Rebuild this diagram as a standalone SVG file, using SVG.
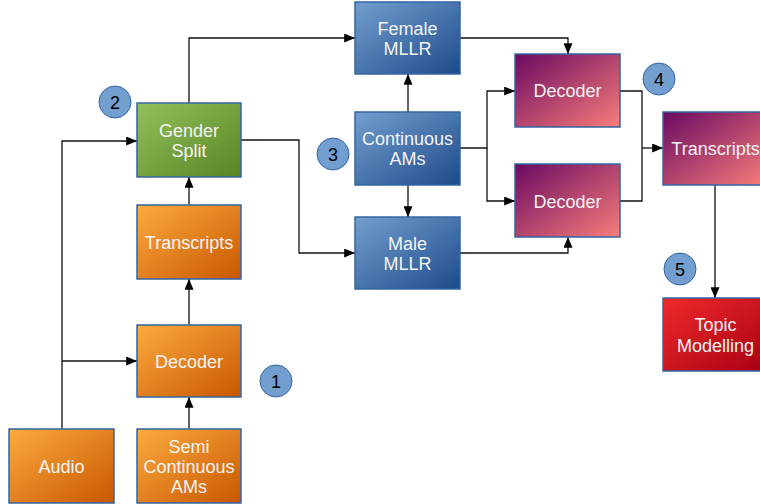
<svg xmlns="http://www.w3.org/2000/svg" width="760" height="504" viewBox="0 0 760 504">
<defs>
<linearGradient id="gOrange" x1="0" y1="0" x2="1" y2="1"><stop offset="0" stop-color="#fcab3f"/><stop offset="1" stop-color="#c95700"/></linearGradient>
<linearGradient id="gGreen" x1="0" y1="0" x2="1" y2="1"><stop offset="0" stop-color="#93c05c"/><stop offset="1" stop-color="#5a8423"/></linearGradient>
<linearGradient id="gBlue" x1="0" y1="0" x2="1" y2="1"><stop offset="0" stop-color="#729fcf"/><stop offset="1" stop-color="#1f4a8b"/></linearGradient>
<linearGradient id="gPurple" x1="0" y1="0" x2="1" y2="1"><stop offset="0" stop-color="#6a0a62"/><stop offset="1" stop-color="#f97d7a"/></linearGradient>
<linearGradient id="gRed" x1="0" y1="0" x2="1" y2="1"><stop offset="0" stop-color="#ee2a2a"/><stop offset="1" stop-color="#a80014"/></linearGradient>
<marker id="arr" viewBox="0 0 12 10" refX="12" refY="5" markerWidth="12" markerHeight="9" markerUnits="userSpaceOnUse" orient="auto"><path d="M0,0 L12,5 L0,10 Z" fill="#000"/></marker>
</defs>
<style>
.box{stroke:#3465a4;stroke-width:1.5}
.lbl{font-family:"Liberation Sans",Arial,sans-serif;font-size:18px;fill:#f4f4f4;text-anchor:middle}
.num{font-family:"Liberation Sans",Arial,sans-serif;font-size:18px;fill:#000;text-anchor:middle}
.badge{fill:#729fcf;stroke:#3465a4;stroke-width:1}
.conn path{fill:none;stroke:#111;stroke-width:1.3}
.conn .a{marker-end:url(#arr)}
</style>
<g class="conn" id="connectors">
<path d="M62,429 V141 H137" class="a"/>
<path d="M62,361 H137" class="a"/>
<path d="M189,429 V397" class="a"/>
<path d="M189,325 V279" class="a"/>
<path d="M189,205 V177" class="a"/>
<path d="M189,103 V38 H355" class="a"/>
<path d="M241,140 H299 V253 H355" class="a"/>
<path d="M408,112 V74" class="a"/>
<path d="M408,185 V217" class="a"/>
<path d="M460,148 H487 V91 H515" class="a"/>
<path d="M487,148 V201 H515" class="a"/>
<path d="M460,38 H568 V54" class="a"/>
<path d="M460,253 H568 V237" class="a"/>
<path d="M620,91 H642 V201 H620"/>
<path d="M642,148 H663" class="a"/>
<path d="M715,185 V298" class="a"/>
</g>
<g id="audio"><rect class="box" x="9" y="429" width="105" height="74" fill="url(#gOrange)"/><text class="lbl" x="61.5" y="472.5">Audio</text></g>
<g id="semi"><rect class="box" x="137" y="429" width="104" height="74" fill="url(#gOrange)"/><text class="lbl" x="189" y="452.5">Semi</text><text class="lbl" x="189" y="472.5">Continuous</text><text class="lbl" x="189" y="492.5">AMs</text></g>
<g id="decoder1"><rect class="box" x="137" y="325" width="104" height="72" fill="url(#gOrange)"/><text class="lbl" x="189" y="367.5">Decoder</text></g>
<g id="transcripts1"><rect class="box" x="137" y="205" width="104" height="74" fill="url(#gOrange)"/><text class="lbl" x="189" y="248.5">Transcripts</text></g>
<g id="gender"><rect class="box" x="137" y="103" width="104" height="74" fill="url(#gGreen)"/><text class="lbl" x="189" y="136.5">Gender</text><text class="lbl" x="189" y="156.5">Split</text></g>
<g id="female"><rect class="box" x="355" y="2" width="105" height="72" fill="url(#gBlue)"/><text class="lbl" x="407.5" y="34.5">Female</text><text class="lbl" x="407.5" y="54.5">MLLR</text></g>
<g id="continuous"><rect class="box" x="355" y="112" width="105" height="73" fill="url(#gBlue)"/><text class="lbl" x="407.5" y="145">Continuous</text><text class="lbl" x="407.5" y="165">AMs</text></g>
<g id="male"><rect class="box" x="355" y="217" width="105" height="72" fill="url(#gBlue)"/><text class="lbl" x="407.5" y="249.5">Male</text><text class="lbl" x="407.5" y="269.5">MLLR</text></g>
<g id="decoder2"><rect class="box" x="515" y="54" width="105" height="73" fill="url(#gPurple)"/><text class="lbl" x="567.5" y="97">Decoder</text></g>
<g id="decoder3"><rect class="box" x="515" y="164" width="105" height="73" fill="url(#gPurple)"/><text class="lbl" x="567.5" y="207.5">Decoder</text></g>
<g id="transcripts2"><rect class="box" x="663" y="112" width="105" height="73" fill="url(#gPurple)"/><text class="lbl" x="715.5" y="154.5">Transcripts</text></g>
<g id="topic"><rect class="box" x="663" y="298" width="105" height="73" fill="url(#gRed)"/><text class="lbl" x="715.5" y="331">Topic</text><text class="lbl" x="715.5" y="352">Modelling</text></g>
<g id="badge1"><circle class="badge" cx="276" cy="381" r="16"/><text class="num" x="276" y="387.5">1</text></g>
<g id="badge2"><circle class="badge" cx="115" cy="102" r="16"/><text class="num" x="115" y="108.5">2</text></g>
<g id="badge3"><circle class="badge" cx="333" cy="154" r="16"/><text class="num" x="333" y="160.5">3</text></g>
<g id="badge4"><circle class="badge" cx="659" cy="79" r="16"/><text class="num" x="659" y="85.5">4</text></g>
<g id="badge5"><circle class="badge" cx="680" cy="269" r="16"/><text class="num" x="680" y="275.5">5</text></g>
</svg>
